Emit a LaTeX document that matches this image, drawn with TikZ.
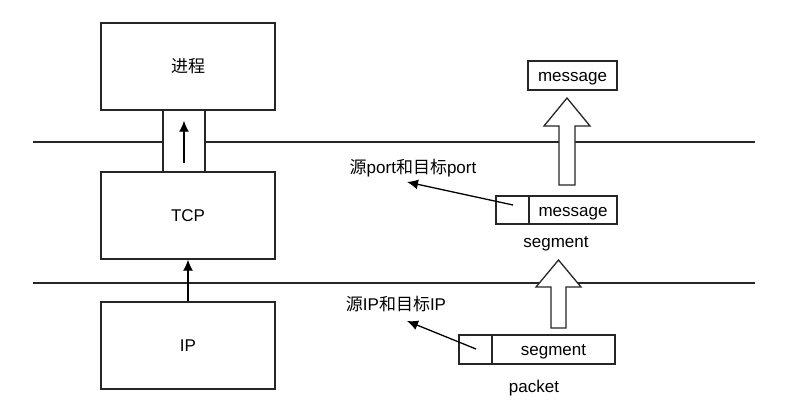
\documentclass[tikz,border=0pt]{standalone}
\usepackage{fontspec}
\setmainfont{Liberation Sans}
\newfontfamily\cjk{Noto Sans CJK SC}
\usepackage{tikz}
\usetikzlibrary{calc}
\usetikzlibrary{arrows.meta}
\usetikzlibrary{positioning}

\begin{document}
\begin{tikzpicture}[x=1pt, y=-1pt, line width=1.3pt, font=\fontsize{17}{20}\selectfont,
  every node/.style={text height=15.5pt, text depth=3.5pt}]
\useasboundingbox (0,0) rectangle (802,410);
% layer lines
\coordinate (T1) at (33,142);
\coordinate (T2) at (755,142);
\coordinate (B1) at (33,283);
\coordinate (B2) at (755,283);
\draw [draw=black!85] (T1) to (T2);
\draw [draw=black!85] (B1) to (B2);
% left stack
\node [rectangle, draw=black!85, minimum width=174, minimum height=87] (P) at (188,66.5) {\cjk 进程};
\node [rectangle, draw=black!85, fill=white, minimum width=42, minimum height=62] (S) at (184,141) {};
\node [rectangle, draw=black!85, minimum width=174, minimum height=87] (TCP) at (188,215.5) {TCP};
\node [rectangle, draw=black!85, minimum width=174, minimum height=87] (IP) at (188,345.5) {IP};
\draw [-{Latex[length=11pt,width=10pt]}, draw=black] ($(S.south)!0.16!(S.north)$) to ($(S.south)!0.82!(S.north)$);
\draw [-{Latex[length=11pt,width=10pt]}, draw=black] (IP) to (TCP);
% right side
\node [rectangle, draw=black!85, minimum width=89, minimum height=29] (M) at (572.5,75.5) {message};
\node [rectangle, draw=black!85, minimum width=33, minimum height=28] (SH) at (512.5,210) {};
\node [rectangle, draw=black!85, minimum width=88, minimum height=28] (SM) at (573,210) {message};
\node (SL) at (556,241) {segment};
\node [rectangle, draw=black!85, minimum width=33, minimum height=29] (PH) at (475.5,349.5) {};
\node [rectangle, draw=black!85, minimum width=123, minimum height=29] (PS) at (553.5,349.5) {segment};
\node (PL) at (534,386) {packet};
\node (PortL) at (413,167) {{\cjk 源}port{\cjk 和目标}port};
\node (IPL) at (396,304) {{\cjk 源}IP{\cjk 和目标}IP};
\coordinate (SA) at (513,205);
\coordinate (PA) at (476,349);
\draw [-{Latex[length=11pt,width=10pt]}, draw=black] (SA) to (407,182);
\draw [-{Latex[length=11pt,width=10pt]}, draw=black] (PA) to (407,321);
% block arrows
\filldraw [draw=black!85, fill=white] (559,185) -- (559,126) -- (544,126) -- (567,98) -- (590,126) -- (575,126) -- (575,185) -- cycle;
\filldraw [draw=black!85, fill=white] (551,328) -- (551,287) -- (536,287) -- (558.5,260) -- (581,287) -- (566,287) -- (566,328) -- cycle;
\end{tikzpicture}
\end{document}
